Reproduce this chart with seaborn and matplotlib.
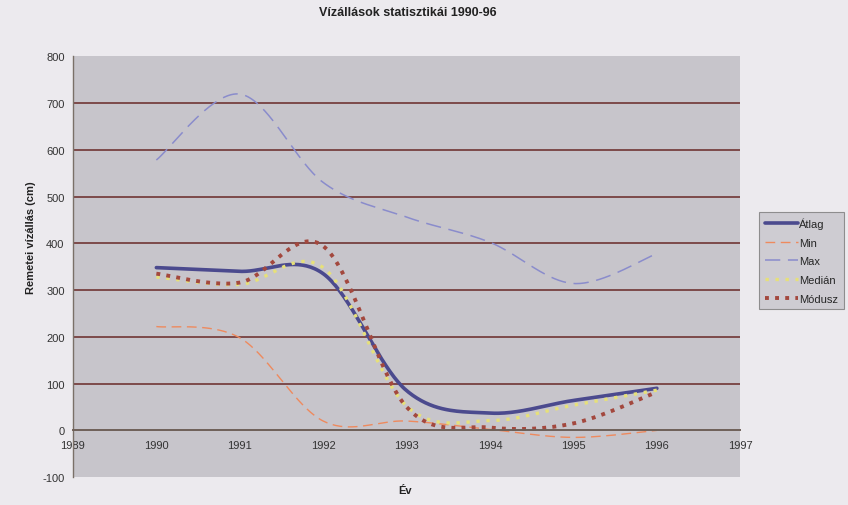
import numpy as np
import pandas as pd
import seaborn as sns
import matplotlib
matplotlib.use("Agg")
import matplotlib.pyplot as plt

# yearly statistics (cm)
years = [1990, 1991, 1992, 1993, 1994, 1995, 1996]
atlag = [348, 340, 335, 85, 37, 64, 90]
minimum = [222, 198, 20, 20, 2, -15, 0]
maximum = [578, 719, 530, 456, 402, 314, 378]
median = [328, 312, 348, 52, 21, 54, 86]
modusz = [335, 316, 394, 50, 6, 15, 82]

x_ticks = list(range(1989, 1998))
y_ticks = list(range(-100, 900, 100))


def smooth_line(xs, ys, n=40):
    # Excel-style "smoothed line": cubic Bezier through every data point
    pts = np.column_stack([xs, ys]).astype(float)
    segs = []
    last = len(pts) - 1
    for i in range(last):
        p0 = pts[max(i - 1, 0)]
        p1 = pts[i]
        p2 = pts[i + 1]
        p3 = pts[min(i + 2, last)]
        c1 = p1 + (p2 - p0) / 6
        c2 = p2 - (p3 - p1) / 6
        t = np.linspace(0, 1, n, endpoint=(i == last - 1))[:, None]
        segs.append((1 - t) ** 3 * p1 + 3 * (1 - t) ** 2 * t * c1
                    + 3 * (1 - t) * t ** 2 * c2 + t ** 3 * p2)
    curve = np.vstack(segs)
    return pd.DataFrame({"ev": curve[:, 0], "ertek": curve[:, 1]})


sns.set_style("white")
plt.rcParams["font.family"] = ["Liberation Sans", "DejaVu Sans"]
plt.rcParams["axes.unicode_minus"] = False

fig = plt.figure(figsize=(8.48, 5.06), dpi=100, facecolor="#eceaee")
ax = fig.add_axes([0.086, 0.055, 0.787, 0.832])
ax.set_facecolor("#c7c5cb")

series = [
    ("Átlag", atlag, "#4b4a8e", 2.6, "-"),
    ("Min", minimum, "#ee8a5e", 1.0, (0, (7, 4))),
    ("Max", maximum, "#8a8ccc", 1.1, (0, (10, 5))),
    ("Medián", median, "#e6e07a", 2.4, (0, (1, 2))),
    ("Módusz", modusz, "#a3483e", 2.8, (0, (1, 1.6))),
]
for name, vals, color, lw, ls in series:
    df = smooth_line(years, vals)
    sns.lineplot(data=df, x="ev", y="ertek", ax=ax, color=color, linewidth=lw,
                 linestyle=ls, label=name, estimator=None, sort=False)

for v in y_ticks:
    if 0 < v < 800:
        ax.axhline(v, color="#7c4a4a", linewidth=1.4, zorder=0.5)

ax.spines["top"].set_visible(False)
ax.spines["right"].set_visible(False)
ax.spines["bottom"].set_position(("data", 0))
ax.spines["bottom"].set_color("#6e6058")
ax.spines["bottom"].set_linewidth(1.4)
ax.spines["left"].set_color("#7a7068")
ax.spines["left"].set_linewidth(1.0)

ax.set_xlim(1989, 1997)
ax.set_ylim(-100, 800)
ax.set_xticks(x_ticks)
ax.set_yticks(y_ticks)
ax.tick_params(axis="both", direction="out", length=4, width=0.8,
               color="#6e6058", labelsize=8, labelcolor="#333333", pad=2)
ax.tick_params(axis="x", pad=3)

ax.set_xlabel("")
ax.set_ylabel("")
fig.text(0.037, 0.53, "Remetei vízállás (cm)", rotation=90, ha="center",
         va="center", fontsize=8, fontweight="bold", color="#222222")
fig.text(0.478, 0.03, "Év", ha="center", va="center", fontsize=8,
         fontweight="bold", color="#222222")
fig.text(0.481, 0.975, "Vízállások statisztikái 1990-96", ha="center",
         va="center", fontsize=9, fontweight="bold", color="#222222")

leg = ax.legend(loc="upper left", bbox_to_anchor=(1.028, 0.63), fontsize=8,
                handlelength=3.0, handletextpad=0.1, borderpad=0.5,
                labelspacing=0.78, frameon=True, fancybox=False,
                borderaxespad=0)
leg.get_frame().set_facecolor("#c7c5cb")
leg.get_frame().set_edgecolor("#7a7a7a")
leg.get_frame().set_linewidth(0.8)

fig.savefig("out.png", dpi=100, facecolor=fig.get_facecolor())
